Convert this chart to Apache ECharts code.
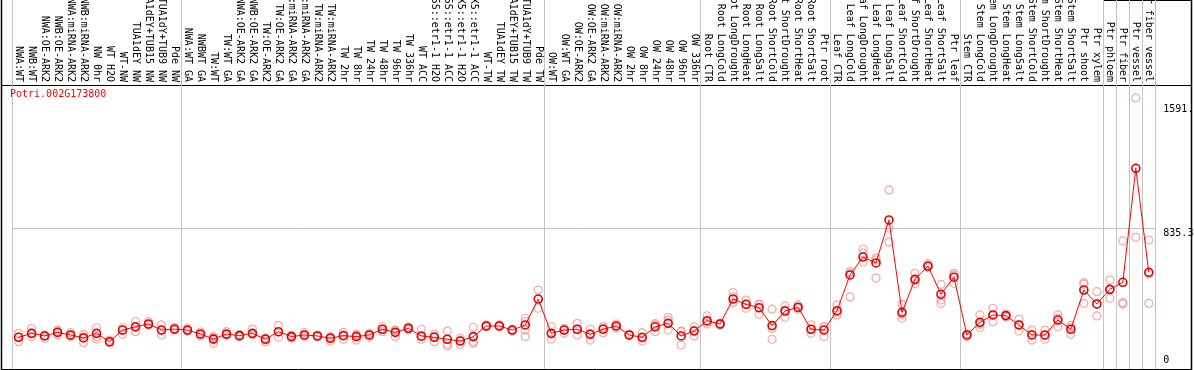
<!DOCTYPE html>
<html><head><meta charset="utf-8">
<script src="https://cdn.jsdelivr.net/npm/echarts@6/dist/echarts.min.js"></script>
<style>html,body{margin:0;padding:0;background:#fff}#c{width:1194px;height:370px}</style>
</head><body><div id="c"></div>
<script>
const chartTitle = 'Potri.002G173800';
const categories = [
 'NWA:WT','NWB:WT','NWA:OE-ARK2','NWB:OE-ARK2','NWA:miRNA-ARK2','NWB:miRNA-ARK2','NW 0hr','WT H2O','WT-NW','TUA1dEY NW','TUA1dEY+TUB15 NW','TUA1dY+TUB9 NW','Pde NW',
 'NWA:WT GA','NWBWT GA','TW:WT','TW:WT GA','NWA:OE-ARK2 GA','NWB:OE-ARK2 GA','TW:OE-ARK2','TW:OE-ARK2 GA','NWA:miRNA-ARK2 GA','NWB:miRNA-ARK2 GA','TW:miRNA-ARK2','TW:miRNA-ARK2',
 'TW 2hr','TW 8hr','TW 24hr','TW 48hr','TW 96hr','TW 336hr','WT ACC','35S::etr1-1 H2O','35S::etr1-1 ACC','LMX5::etr1-1 H2O','LMX5::etr1-1 ACC','WT-TW','TUA1dEY TW','TUA1dEY+TUB15 TW','TUA1dY+TUB9 TW','Pde TW',
 'OW:WT','OW:WT GA','OW:OE-ARK2','OW:OE-ARK2 GA','OW:miRNA-ARK2','OW:miRNA-ARK2','OW 2hr','OW 8hr','OW 24hr','OW 48hr','OW 96hr','OW 336hr',
 'Root CTR','Root LongCold','Root LongDrought','Root LongHeat','Root LongSalt','Root ShortCold','Root ShortDrought','Root ShortHeat','Root ShortSalt','Ptr root',
 'Leaf CTR','Leaf LongCold','Leaf LongDrought','Leaf LongHeat','Leaf LongSalt','Leaf ShortCold','Leaf ShortDrought','Leaf ShortHeat','Leaf ShortSalt','Ptr leaf',
 'Stem CTR','Stem LongCold','Stem LongDrought','Stem LongHeat','Stem LongSalt','Stem ShortCold','Stem ShortDrought','Stem ShortHeat','Stem ShortSalt','Ptr shoot','Ptr xylem',
 'Ptr phloem','Ptr fiber','Ptr vessel','Ptr fiber vessel'
];
const means = [
 169,193,177,199,183,165,193,142,213,233,250,213,219,
 213,189,158,189,179,193,157,203,173,183,177,163,
 179,173,183,218,199,224,177,169,157,146,173,238,238,213,244,402,
 193,213,218,187,218,238,183,169,233,254,177,207,
 270,250,402,370,349,240,329,352,218,213,
 331,549,658,622,884,321,522,603,431,535,
 183,260,305,301,244,183,183,274,218,457,372,
 461,504,1199,565
];
const replicates = [
 [193,142,170],[224,173,195],[183,163,180],[213,183,201],[197,173,180],[187,136,172],[227,173,158],[152,134,140],[227,187,213],[264,203,232],[264,244,247],[244,183,213],[230,213,216],
 [224,207,210],[201,177,189],[173,132,165],[203,183,181],[187,171,179],[219,183,189],[163,142,165],[240,169,201],[183,165,171],[197,173,180],[183,171,177],[146,171,172],
 [199,157,181],[187,152,180],[193,173,183],[233,203,218],[213,173,211],[232,216,224],[218,157,171],[189,142,176],[207,128,116],[163,126,149],[230,142,132],[244,232,238],[233,244,238],[218,207,213],[285,264,213,173],[457,346,402],
 [233,157,189],[224,193,213],[254,183,217],[218,152,190],[233,197,224],[250,238,226],[189,178,183],[197,146,164],[244,203,252],[291,213,274],[203,122,206],[233,177,211],
 [299,250,261],[256,244,250],[441,416,380],[396,346,368],[366,309,372],[340,157,223],[360,291,336],[366,341,349],[244,193,217],[233,173,233],
 [366,305,322],[560,415,570],[707,683,628],[652,530,640],[1067,750,835],[370,285,308],[559,494,513],[616,598,595],[492,396,376],[559,498,548],
 [173,190,186],[305,227,248],[346,264,305],[311,292,300],[280,207,245],[213,152,184],[213,157,180],[305,233,284],[240,187,227],[502,376,493],[447,299,370],
 [518,407,458],[756,380,372],[778,1628],[762,555,376]
];
const groupBoundaries = [0,13,41,53,63,73,84,85,86,87,88];
const gridLineValue = 835.3;
const rightLabelsTop = [835.3, 1591];
const rightLabelsBottom = [0];
const labelText = {835.3:'835.3', 1591:'1591.', 0:'0'};

const mono = 'DejaVu Sans Mono';
const yMin = -24.4, yMax = 2224.9;

const repPoints = [];
replicates.forEach((arr, i) => arr.forEach(v => repPoints.push([i + 0.5, v])));

const chart = echarts.init(document.getElementById('c'), null, {renderer: 'canvas'});
chart.setOption({
  animation: false,
  backgroundColor: '#fff',
  title: {
    text: chartTitle, left: 10, top: 89, padding: 0,
    textStyle: {color: '#ff0000', fontSize: 10, fontFamily: mono, fontWeight: 'normal'}
  },
  grid: {left: 12.1, right: 38.7, top: 0, bottom: 1, outerBoundsMode: 'none', containLabel: false},
  xAxis: [{
    type: 'category', data: categories, position: 'top', offset: -85,
    boundaryGap: true,
    axisLine: {show: false, onZero: false},
    axisTick: {show: false},
    splitLine: {show: false},
    axisLabel: {interval: 0, rotate: 90, margin: 3, fontSize: 10, fontFamily: mono, color: '#000'}
  }, {
    type: 'value', min: 0, max: 88, show: false,
    axisLine: {onZero: false}, splitLine: {show: false}
  }],
  yAxis: [{
    type: 'value', position: 'right', min: yMin, max: yMax,
    axisLine: {show: false, onZero: false}, axisTick: {show: false}, splitLine: {show: false},
    axisLabel: {customValues: rightLabelsTop, margin: 8, verticalAlign: 'top', fontSize: 10, fontFamily: mono, color: '#000',
      formatter: v => labelText[v] !== undefined ? labelText[v] : String(v)}
  }, {
    type: 'value', position: 'right', min: yMin, max: yMax,
    axisLine: {show: false, onZero: false}, axisTick: {show: false}, splitLine: {show: false},
    axisLabel: {customValues: rightLabelsBottom, margin: 8, verticalAlign: 'bottom', fontSize: 10, fontFamily: mono, color: '#000',
      formatter: v => labelText[v] !== undefined ? labelText[v] : String(v)}
  }],
  series: [{
    type: 'scatter', xAxisIndex: 1, yAxisIndex: 0, data: repPoints, z: 2,
    symbol: 'circle', symbolSize: 8,
    itemStyle: {color: 'rgba(0,0,0,0)', borderColor: '#f09595', borderWidth: 1.2},
    silent: true,
    markLine: {
      silent: true, symbol: ['none', 'none'], z: 1, animation: false,
      label: {show: false},
      lineStyle: {color: '#c4c4c4', type: 'solid', width: 1},
      emphasis: {disabled: true},
      data: groupBoundaries.map(b => ({xAxis: b})).concat([{yAxis: gridLineValue}])
    }
  }, {
    type: 'line', xAxisIndex: 0, yAxisIndex: 0, data: means, z: 3,
    symbol: 'circle', symbolSize: 8, showAllSymbol: true,
    lineStyle: {color: '#ff0000', width: 1},
    itemStyle: {color: 'rgba(0,0,0,0)', borderColor: '#e00000', borderWidth: 1.6},
    silent: true
  }],
  graphic: [
    {type: 'line', silent: true, shape: {x1: 1, y1: 85.5, x2: 1192, y2: 85.5}, style: {stroke: '#000', lineWidth: 1}},
    {type: 'line', silent: true, shape: {x1: 1, y1: 369.5, x2: 1192, y2: 369.5}, style: {stroke: '#000', lineWidth: 1}},
    {type: 'line', silent: true, shape: {x1: 1.5, y1: 0, x2: 1.5, y2: 370}, style: {stroke: '#000', lineWidth: 1.5}},
    {type: 'line', silent: true, shape: {x1: 1191.5, y1: 0, x2: 1191.5, y2: 370}, style: {stroke: '#000', lineWidth: 1.5}},
    {type: 'line', silent: true, shape: {x1: 1103, y1: 0.5, x2: 1192, y2: 0.5}, style: {stroke: '#000', lineWidth: 1}}
  ]
});
</script>
</body></html>
